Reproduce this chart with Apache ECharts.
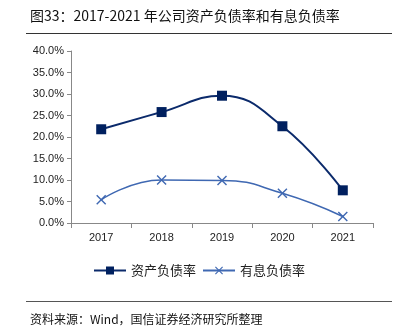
<!DOCTYPE html>
<html><head><meta charset="utf-8">
<script src="https://cdn.jsdelivr.net/npm/echarts@6/dist/echarts.min.js"></script>
<style>html,body{margin:0;padding:0;background:#fff}#c{width:398px;height:335px}</style>
</head><body><div id="c"></div>
<script>
const categories = ['2017','2018','2019','2020','2021'];
const assetDebtRatio = [21.8, 25.8, 29.6, 22.5, 7.6];
const interestDebtRatio = [5.4, 10.0, 9.9, 6.9, 1.5];
const seriesNames = ['资产负债率','有息负债率'];
const yTicks = {min:0, max:40, interval:5};

const cjk = '"Noto Sans CJK SC", "Noto Sans", sans-serif';
const crossPath = 'path://M0,1L1,0L5,4L9,0L10,1L6,5L10,9L9,10L5,6L1,10L0,9L4,5Z';
const chart = echarts.init(document.getElementById('c'));
chart.setOption({
  animation:false,
  backgroundColor:'#fff',
  title:[
    {text:'图33：2017-2021 年公司资产负债率和有息负债率', left:25, top:4,
     textStyle:{fontFamily:cjk, fontSize:14, fontWeight:'normal', color:'#111'}},
    {text:'资料来源：Wind，国信证券经济研究所整理', left:25, top:308,
     textStyle:{fontFamily:cjk, fontSize:12, fontWeight:'normal', color:'#111'}}
  ],
  graphic:[
    {type:'line', shape:{x1:26,y1:33.5,x2:392,y2:33.5}, style:{stroke:'#333',lineWidth:1}},
    {type:'line', shape:{x1:26,y1:301.5,x2:392,y2:301.5}, style:{stroke:'#555',lineWidth:1}}
  ],
  grid:{left:71, right:25, top:51, bottom:112},
  legend:{
    top:259, left:'center', itemWidth:32, itemHeight:10, itemGap:6,
    textStyle:{fontFamily:cjk, fontSize:13, color:'#222'},
    data:seriesNames
  },
  xAxis:{
    type:'category', data:categories, boundaryGap:true,
    axisLine:{lineStyle:{color:'#888'}},
    axisTick:{show:true, length:5, lineStyle:{color:'#888'}},
    axisLabel:{fontFamily:'Arial, "Liberation Sans", sans-serif', fontSize:11, color:'#222', margin:9}
  },
  yAxis:{
    type:'value', min:yTicks.min, max:yTicks.max, interval:yTicks.interval,
    axisLine:{show:true, lineStyle:{color:'#888'}},
    axisTick:{show:true, length:4, lineStyle:{color:'#888'}},
    splitLine:{show:false},
    axisLabel:{fontFamily:'Arial, "Liberation Sans", sans-serif', fontSize:11, color:'#222', margin:7,
      formatter:v=>v.toFixed(1)+'%'}
  },
  series:[
    {name:seriesNames[0], type:'line', data:assetDebtRatio, smooth:0.45,
     symbol:'rect', symbolSize:10,
     lineStyle:{color:'#0B2A6B', width:2}, itemStyle:{color:'#00205F'}},
    {name:seriesNames[1], type:'line', data:interestDebtRatio, smooth:0.5,
     symbol:crossPath, symbolSize:10,
     lineStyle:{color:'#3F68B2', width:1.5}, itemStyle:{color:'#3F68B2'}}
  ]
});
</script></body></html>
